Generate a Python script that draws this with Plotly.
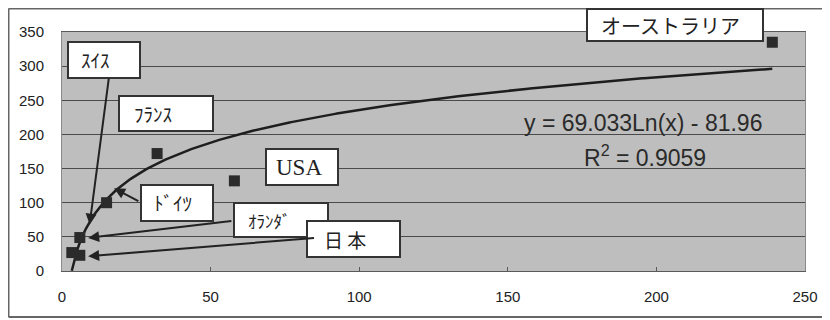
import numpy as np
import plotly.graph_objects as go

# ---- data ----
x_vals = [239, 58, 32, 15, 6, 6, 3.3]
y_vals = [335, 132, 172, 100, 49, 23, 27]

# trendline shown on chart: y = A*ln(x) + B
TREND_A = 69.033
TREND_B = -81.96
eq_text = "y = 69.033Ln(x) - 81.96"
r2_text = "R<sup>2</sup> = 0.9059"

x_ticks = [0, 50, 100, 150, 200, 250]
y_ticks = [0, 50, 100, 150, 200, 250, 300, 350]

# ---- layout geometry (page pixels; the page body adds an 8px offset) ----
OFF = 8
W, H = 830 - OFF, 320 - OFF
PL, PR, PT, PB = 62, 805, 32, 271


def px(x):
    return (x - PL) / (PR - PL)


def py(y):
    return (PB - y) / (PB - PT)


fig = go.Figure()

xs = np.linspace(min(x_vals), max(x_vals), 400)
fig.add_trace(go.Scatter(x=xs, y=TREND_A * np.log(xs) + TREND_B, mode="lines",
                         line=dict(color="#1e1e1e", width=2.5), hoverinfo="skip",
                         showlegend=False))
fig.add_trace(go.Scatter(x=x_vals, y=y_vals, mode="markers",
                         marker=dict(symbol="square", size=11, color="#2b2b2b",
                                     line=dict(width=0)),
                         showlegend=False))

shapes = []
annotations = []

# outer chart frame (no right edge visible)
FL, FT, FB = OFF + 0.5, OFF + 0.5, 317
shapes.append(dict(type="line", xref="paper", yref="paper", x0=px(FL), x1=px(FL), y0=py(FT), y1=py(FB),
                   line=dict(color="#666666", width=2), layer="above"))
shapes.append(dict(type="line", xref="paper", yref="paper", x0=px(FL), x1=px(840), y0=py(FT), y1=py(FT),
                   line=dict(color="#666666", width=2), layer="above"))
shapes.append(dict(type="line", xref="paper", yref="paper", x0=px(FL), x1=px(840), y0=py(FB), y1=py(FB),
                   line=dict(color="#666666", width=2), layer="above"))

# arrows: (tip_x, tip_y, tail_x, tail_y) in data coordinates
arrows = [
    (9.3, 68, 15.8, 284),
    (17.5, 121, 26.2, 101),
    (8.8, 48.5, 57.5, 73.5),
    (8.8, 21.5, 85.3, 48.5),
]
for tx, ty, ax_, ay_ in arrows:
    annotations.append(dict(x=tx, y=ty, ax=ax_, ay=ay_, xref="x", yref="y", axref="x", ayref="y",
                            text="", showarrow=True, arrowhead=2, arrowsize=1.1,
                            arrowwidth=2, arrowcolor="#222222"))

# label boxes: (text, x0, y0, x1, y1, text_left, font_family, size)
jp = "Noto Sans CJK JP"
boxes = [
    ("ｽｲｽ", 68, 42, 140, 78, 79, jp, 19),
    ("ﾌﾗﾝｽ", 119, 96, 213, 131, 132, jp, 19),
    ("USA", 266, 149, 338, 185, 274, "Liberation Serif", 23),
    ("ﾄﾞｲﾂ", 141, 185, 213, 221, 152, jp, 19),
    ("ｵﾗﾝﾀﾞ", 234, 203, 328, 237, 246, jp, 17),
    ("日 本", 307, 221, 400, 257, 322, jp, 19),
    ("オーストラリア", 587, 5, 763, 41, 599, jp, 20),
]
for t, x0, y0, x1, y1, tl, fam, sz in boxes:
    y0 = max(y0, OFF + 1)
    shapes.append(dict(type="rect", xref="paper", yref="paper", x0=px(x0), x1=px(x1),
                       y0=py(y0), y1=py(y1), fillcolor="white",
                       line=dict(color="#333333", width=2), layer="above"))
    annotations.append(dict(text=t, xref="paper", yref="paper", x=px(tl), y=py((y0 + y1) / 2),
                            xanchor="left", yanchor="middle", showarrow=False,
                            font=dict(family=fam, size=sz, color="#222222")))

annotations.append(dict(text=eq_text, xref="paper", yref="paper", x=px(643), y=py(123),
                        xanchor="center", yanchor="middle", showarrow=False,
                        font=dict(family="Liberation Sans", size=23, color="#2a2a2a")))
annotations.append(dict(text=r2_text, xref="paper", yref="paper", x=px(645), y=py(156),
                        xanchor="center", yanchor="middle", showarrow=False,
                        font=dict(family="Liberation Sans", size=23, color="#2a2a2a")))

fig.update_layout(
    width=W, height=H,
    margin=dict(l=PL - OFF, r=830 - PR, t=PT - OFF, b=320 - OFF - (PB - OFF) - OFF + OFF, pad=0),
    paper_bgcolor="white",
    plot_bgcolor="#bebebe",
    shapes=shapes,
    annotations=annotations,
    showlegend=False,
)
# bottom margin: figure height minus plot bottom (in figure coords)
fig.update_layout(margin=dict(b=H - (PB - OFF), r=W - (PR - OFF)))

fig.update_xaxes(range=[0, 250], tickvals=x_ticks, showgrid=False, zeroline=False,
                 showline=True, linecolor="#5a5a5a", linewidth=1, mirror=True,
                 ticks="inside", ticklen=4, tickcolor="#5a5a5a",
                 ticklabelstandoff=12,
                 tickfont=dict(family="Liberation Sans", size=15, color="#222222"))
fig.update_yaxes(range=[0, 350], tickvals=y_ticks, showgrid=True, gridcolor="#4a4a4a",
                 gridwidth=1, zeroline=False, showline=True, linecolor="#8a8a8a",
                 linewidth=1, mirror=True, ticks="", ticklabelstandoff=14,
                 tickfont=dict(family="Liberation Sans", size=15, color="#222222"))

fig.write_html("out.html")
